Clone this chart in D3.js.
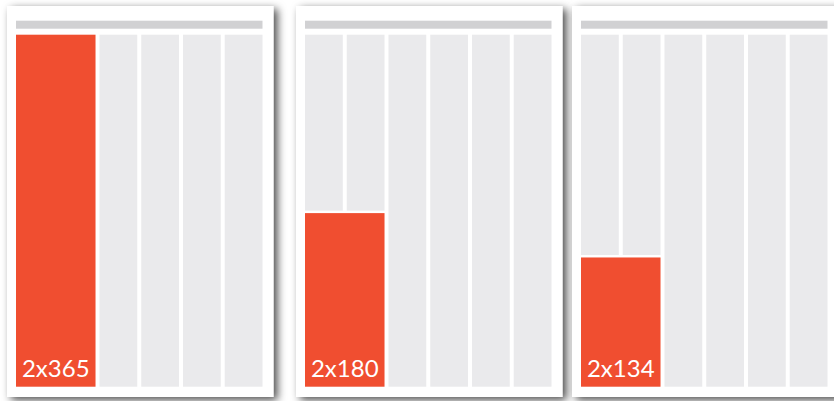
<!DOCTYPE html>
<html>
<head>
<meta charset="utf-8">
<script src="https://cdn.jsdelivr.net/npm/d3@7/dist/d3.min.js"></script>
<style>
html,body{margin:0;padding:0;background:#fff;overflow:hidden;}
svg{display:block;}
</style>
</head>
<body>
<svg id="chart" width="834" height="401"></svg>
<script>
// Data
const panels = ["A", "B", "C"];
const multipliers = [2, 2, 2];
const values = [365, 180, 134];
const maxValue = 365;
const columnCount = 6;
const spanColumns = 2;

// Layout (positions kept separate from data)
const cardX = [7, 296, 572];
const cardY = 6, cardW = 266.5, cardH = 391;
const padX = 9;
const innerW = 246.5;
const headerY = 20.7, headerH = 8;
const colTop = 34.7, colBottom = 386.7;

const svg = d3.select("#chart");
const defs = svg.append("defs");
const f = defs.append("filter").attr("id", "shadow")
  .attr("x", "-20%").attr("y", "-20%").attr("width", "140%").attr("height", "140%");
f.append("feDropShadow").attr("dx", 4).attr("dy", 3).attr("stdDeviation", 4.5)
  .attr("flood-color", "#000").attr("flood-opacity", 0.7);

const y = d3.scaleLinear().domain([0, maxValue]).range([colBottom, colTop]);

panels.forEach((p, i) => {
  const g = svg.append("g");
  const cx = cardX[i];
  g.append("rect").attr("x", cx).attr("y", cardY).attr("width", cardW).attr("height", cardH)
    .attr("fill", "#fff").attr("filter", "url(#shadow)");
  const x0 = cx + padX;
  g.append("rect").attr("x", x0).attr("y", headerY).attr("width", innerW).attr("height", headerH)
    .attr("fill", "#D1D1D3");
  const x = d3.scaleBand().domain(d3.range(columnCount)).range([x0, x0 + innerW]).paddingInner(0.095);
  g.selectAll("rect.col").data(d3.range(columnCount)).join("rect").attr("class", "col")
    .attr("x", d => x(d)).attr("y", colTop).attr("width", x.bandwidth())
    .attr("height", colBottom - colTop).attr("fill", "#EAEAEC");
  const bx = x(0);
  const bw = x(spanColumns - 1) + x.bandwidth() - bx;
  const top = y(values[i]);
  // white gap above the bar
  g.append("rect").attr("x", bx - 2).attr("y", top - 2.5).attr("width", bw + 4)
    .attr("height", colBottom - top + 2.5).attr("fill", "#fff");
  g.append("rect").attr("x", bx).attr("y", top).attr("width", bw)
    .attr("height", colBottom - top).attr("fill", "#F04E30");
  g.append("text").attr("x", bx + bw / 2).attr("y", 377.3)
    .attr("text-anchor", "middle").attr("fill", "#fff")
    .attr("font-family", "Lato, sans-serif").attr("font-size", 24)
    .text(multipliers[i] + "x" + values[i]);
});
</script>
</body>
</html>
